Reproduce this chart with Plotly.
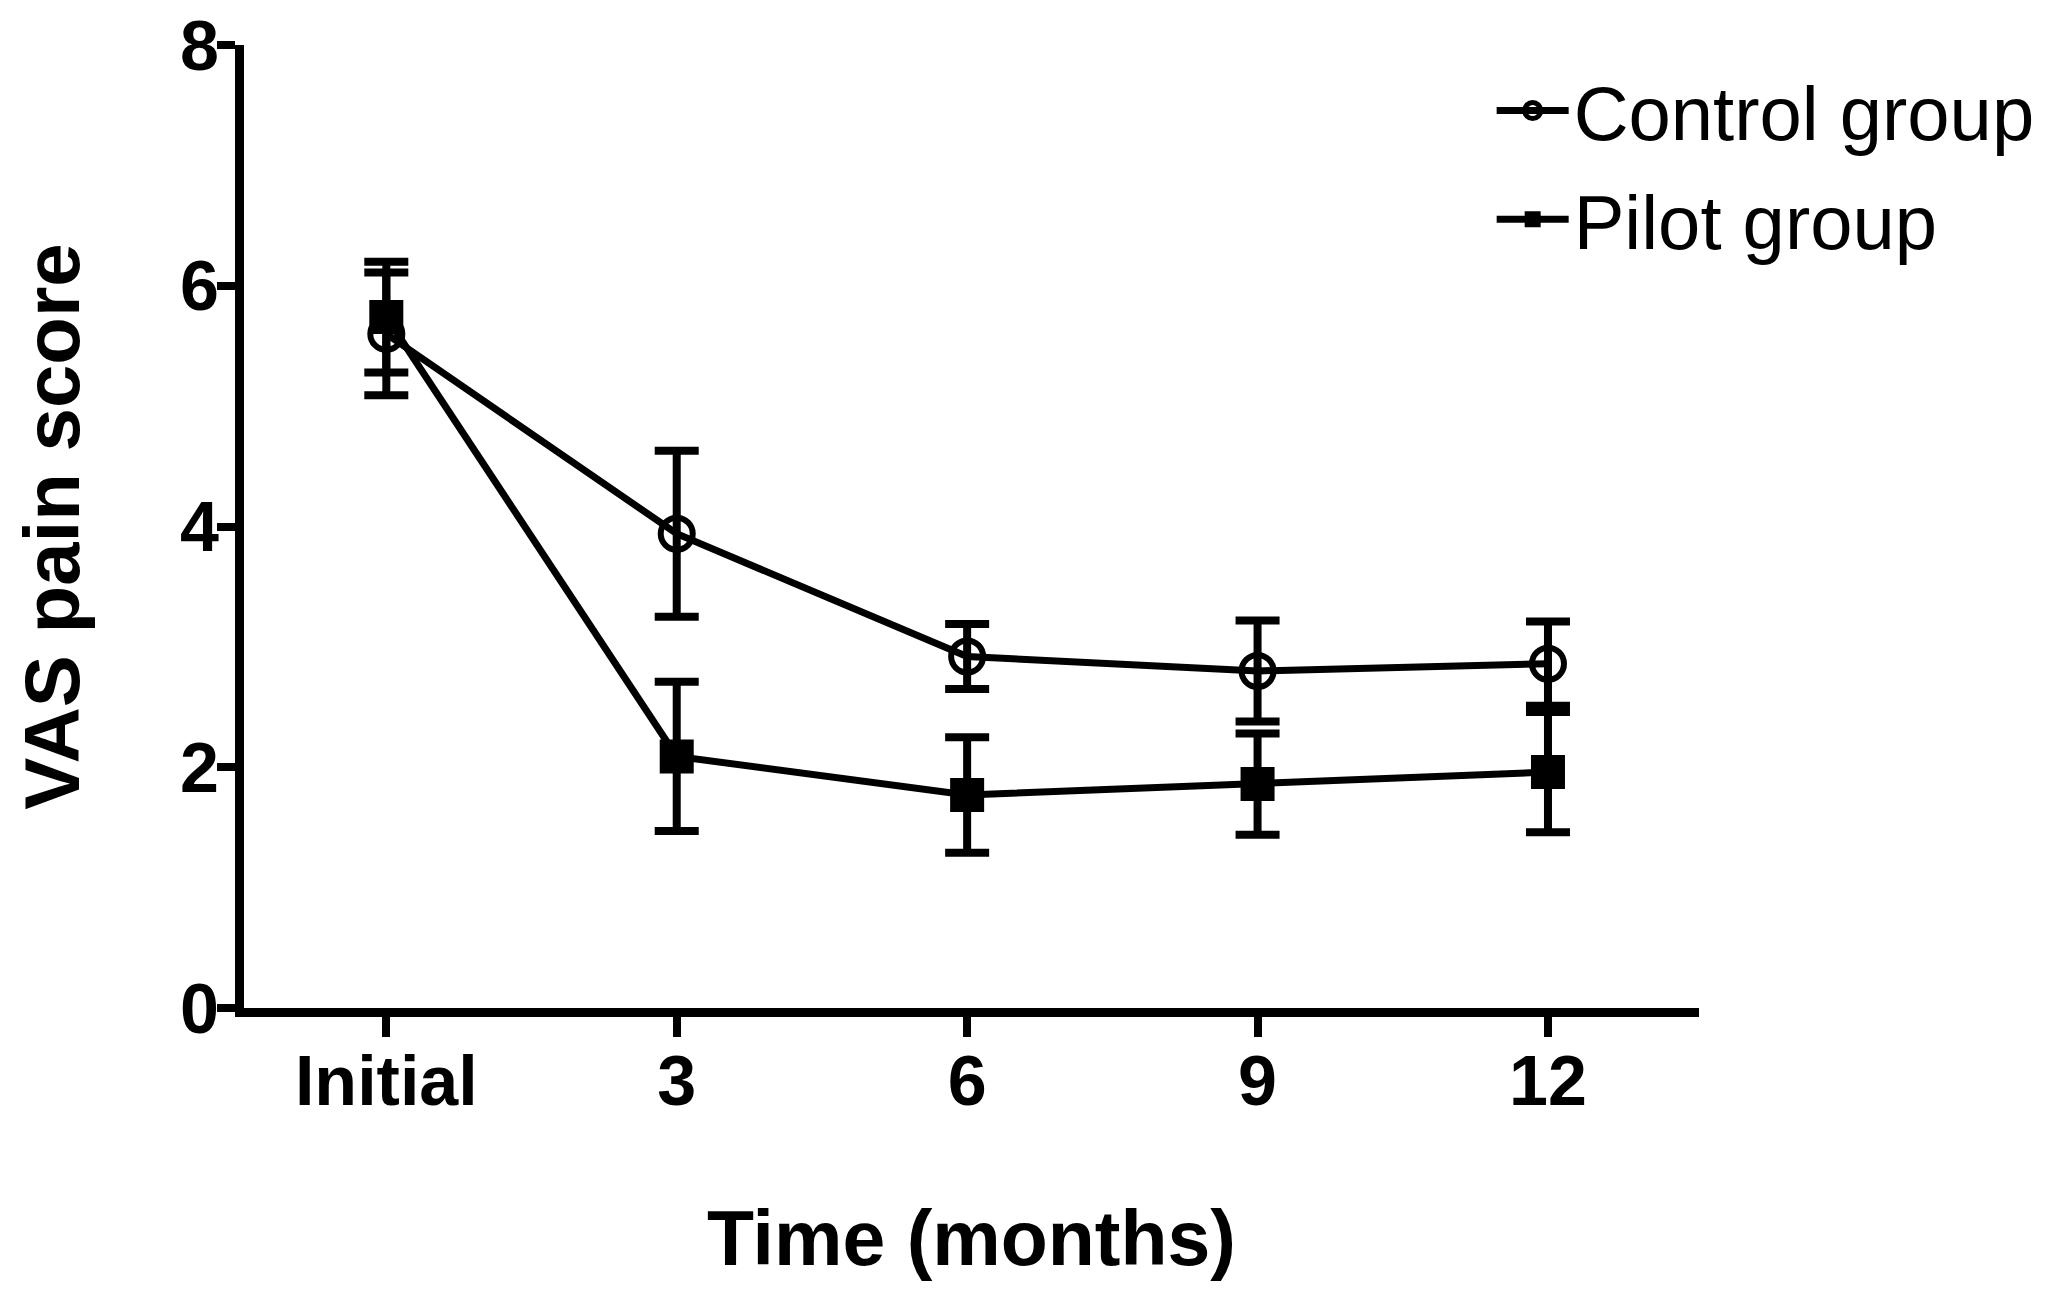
import plotly.graph_objects as go

# time points (categorical positions on the x axis)
time_labels = ["Initial", "3", "6", "9", "12"]
time_pos = [0, 1, 2, 3, 4]

# VAS pain score, mean and error bar
control_mean = [5.60, 3.94, 2.92, 2.80, 2.86]
control_err = [0.51, 0.69, 0.27, 0.42, 0.35]
pilot_mean = [5.74, 2.09, 1.77, 1.86, 1.96]
pilot_err = [0.46, 0.62, 0.48, 0.42, 0.50]

font_family = "Liberation Sans, Arial, sans-serif"

fig = go.Figure()

fig.add_trace(go.Scatter(
    x=time_pos, y=control_mean,
    name="Control group", legendgroup="control",
    mode="lines+markers",
    line=dict(color="black", width=7),
    marker=dict(symbol="circle-open", size=32, color="black", line=dict(width=6)),
    error_y=dict(type="data", array=control_err, visible=True,
                 color="black", thickness=8, width=22),
))

fig.add_trace(go.Scatter(
    x=time_pos, y=pilot_mean,
    name="Pilot group", legendgroup="pilot",
    mode="lines+markers",
    line=dict(color="black", width=7),
    marker=dict(symbol="square", size=34, color="black"),
    error_y=dict(type="data", array=pilot_err, visible=True,
                 color="black", thickness=8, width=22),
))

fig.update_layout(
    width=2050, height=1306,
    margin=dict(l=236, r=359, t=37, b=306),
    paper_bgcolor="white",
    plot_bgcolor="white",
    font=dict(family=font_family, color="black"),
    showlegend=True,
    legend=dict(
        x=0.8575, y=0.99, xanchor="left", yanchor="top",
        font=dict(size=76, family=font_family),
        itemwidth=72,
        traceorder="grouped", tracegroupgap=7,
        bgcolor="rgba(0,0,0,0)",
    ),
    xaxis=dict(
        range=[-0.49, 4.52],
        tickmode="array", tickvals=time_pos, ticktext=time_labels,
        showline=True, linecolor="black", linewidth=9,
        ticks="outside", ticklen=20, tickwidth=8, tickcolor="black",
        tickfont=dict(size=70, family=font_family, weight="bold"),
        ticklabelstandoff=-16, ticklabeloverflow="allow",
        showgrid=False, zeroline=False, automargin=False,
        title=dict(text="Time (months)", standoff=96,
                   font=dict(size=77, family=font_family, weight="bold")),
    ),
    yaxis=dict(
        range=[0, 8],
        tickvals=[0, 2, 4, 6, 8],
        showline=True, linecolor="black", linewidth=9,
        ticks="outside", ticklen=18, tickwidth=8, tickcolor="black",
        tickfont=dict(size=70, family=font_family, weight="bold"),
        ticklabelstandoff=-16, ticklabeloverflow="allow",
        showgrid=False, zeroline=False, automargin=False,
        title=dict(text="VAS pain score", standoff=100,
                   font=dict(size=78, family=font_family, weight="bold")),
    ),
)

fig.write_html("out.html")
